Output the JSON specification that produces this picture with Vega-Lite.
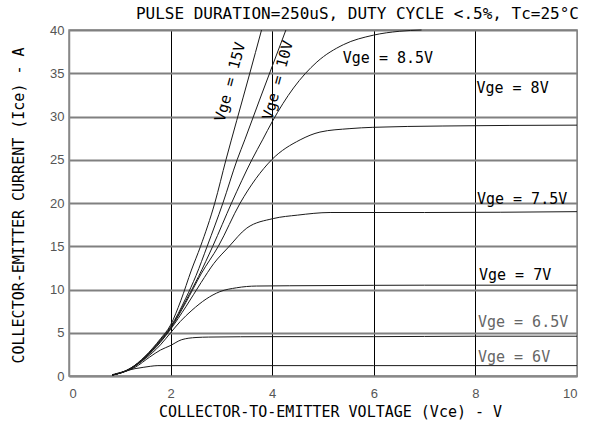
{
  "$schema": "https://vega.github.io/schema/vega-lite/v6.json",
  "width": 508,
  "height": 346,
  "autosize": {"type": "none"},
  "padding": {"left": 69, "top": 30, "right": 15, "bottom": 47},
  "background": "white",
  "config": {
    "view": {"stroke": "#888", "strokeWidth": 1.5},
    "font": "DejaVu Sans Mono"
  },
  "title": {
    "text": "PULSE DURATION=250uS, DUTY CYCLE <.5%, Tc=25°C",
    "anchor": "end",
    "font": "DejaVu Sans Mono",
    "fontSize": 16,
    "fontWeight": "normal",
    "color": "#000",
    "offset": 2
  },
  "datasets": {
    "curves": [
      {"vge": "6V", "vce": 0.85, "ic": 0.15}, {"vge": "6V", "vce": 1.07, "ic": 0.5}, {"vge": "6V", "vce": 1.3, "ic": 0.85}, {"vge": "6V", "vce": 1.46, "ic": 1.0}, {"vge": "6V", "vce": 1.6, "ic": 1.12}, {"vge": "6V", "vce": 1.75, "ic": 1.2}, {"vge": "6V", "vce": 2.5, "ic": 1.2}, {"vge": "6V", "vce": 4, "ic": 1.2}, {"vge": "6V", "vce": 6, "ic": 1.2}, {"vge": "6V", "vce": 8, "ic": 1.2}, {"vge": "6V", "vce": 10, "ic": 1.2},
      {"vge": "6.5V", "vce": 0.85, "ic": 0.1}, {"vge": "6.5V", "vce": 1.1, "ic": 0.5}, {"vge": "6.5V", "vce": 1.3, "ic": 1.0}, {"vge": "6.5V", "vce": 1.59, "ic": 2.2}, {"vge": "6.5V", "vce": 1.8, "ic": 3.0}, {"vge": "6.5V", "vce": 1.99, "ic": 3.5}, {"vge": "6.5V", "vce": 2.22, "ic": 4.2}, {"vge": "6.5V", "vce": 2.5, "ic": 4.45}, {"vge": "6.5V", "vce": 2.75, "ic": 4.5}, {"vge": "6.5V", "vce": 4, "ic": 4.55}, {"vge": "6.5V", "vce": 6, "ic": 4.55}, {"vge": "6.5V", "vce": 8, "ic": 4.6}, {"vge": "6.5V", "vce": 10, "ic": 4.6},
      {"vge": "7V", "vce": 0.85, "ic": 0.1}, {"vge": "7V", "vce": 1.2, "ic": 0.8}, {"vge": "7V", "vce": 1.5, "ic": 2.0}, {"vge": "7V", "vce": 1.8, "ic": 3.6}, {"vge": "7V", "vce": 2.0, "ic": 5.0}, {"vge": "7V", "vce": 2.19, "ic": 6.3}, {"vge": "7V", "vce": 2.42, "ic": 7.6}, {"vge": "7V", "vce": 2.7, "ic": 8.9}, {"vge": "7V", "vce": 2.97, "ic": 9.75}, {"vge": "7V", "vce": 3.3, "ic": 10.2}, {"vge": "7V", "vce": 3.69, "ic": 10.4}, {"vge": "7V", "vce": 5, "ic": 10.45}, {"vge": "7V", "vce": 7, "ic": 10.5}, {"vge": "7V", "vce": 10, "ic": 10.5},
      {"vge": "7.5V", "vce": 0.85, "ic": 0.1}, {"vge": "7.5V", "vce": 1.2, "ic": 0.8}, {"vge": "7.5V", "vce": 1.5, "ic": 2.1}, {"vge": "7.5V", "vce": 1.8, "ic": 3.9}, {"vge": "7.5V", "vce": 2.0, "ic": 5.4}, {"vge": "7.5V", "vce": 2.3, "ic": 8.0}, {"vge": "7.5V", "vce": 2.6, "ic": 10.8}, {"vge": "7.5V", "vce": 2.85, "ic": 13.0}, {"vge": "7.5V", "vce": 3.14, "ic": 14.9}, {"vge": "7.5V", "vce": 3.5, "ic": 17.1}, {"vge": "7.5V", "vce": 4.02, "ic": 18.2}, {"vge": "7.5V", "vce": 4.5, "ic": 18.6}, {"vge": "7.5V", "vce": 5.14, "ic": 18.9}, {"vge": "7.5V", "vce": 7, "ic": 18.9}, {"vge": "7.5V", "vce": 10, "ic": 19.0},
      {"vge": "8V", "vce": 0.85, "ic": 0.1}, {"vge": "8V", "vce": 1.2, "ic": 0.8}, {"vge": "8V", "vce": 1.5, "ic": 2.1}, {"vge": "8V", "vce": 1.8, "ic": 4.0}, {"vge": "8V", "vce": 2.0, "ic": 5.5}, {"vge": "8V", "vce": 2.3, "ic": 8.5}, {"vge": "8V", "vce": 2.6, "ic": 11.8}, {"vge": "8V", "vce": 2.94, "ic": 15}, {"vge": "8V", "vce": 3.37, "ic": 20}, {"vge": "8V", "vce": 3.99, "ic": 25}, {"vge": "8V", "vce": 4.55, "ic": 27.3}, {"vge": "8V", "vce": 4.94, "ic": 28.2}, {"vge": "8V", "vce": 5.53, "ic": 28.6}, {"vge": "8V", "vce": 5.98, "ic": 28.75}, {"vge": "8V", "vce": 7.36, "ic": 28.9}, {"vge": "8V", "vce": 10, "ic": 29.0},
      {"vge": "8.5V", "vce": 0.85, "ic": 0.1}, {"vge": "8.5V", "vce": 1.2, "ic": 0.85}, {"vge": "8.5V", "vce": 1.5, "ic": 2.2}, {"vge": "8.5V", "vce": 1.8, "ic": 4.1}, {"vge": "8.5V", "vce": 2.0, "ic": 5.6}, {"vge": "8.5V", "vce": 2.3, "ic": 8.7}, {"vge": "8.5V", "vce": 2.55, "ic": 11.5}, {"vge": "8.5V", "vce": 2.83, "ic": 15}, {"vge": "8.5V", "vce": 3.2, "ic": 20}, {"vge": "8.5V", "vce": 3.6, "ic": 25}, {"vge": "8.5V", "vce": 3.81, "ic": 27.3}, {"vge": "8.5V", "vce": 4.0, "ic": 29.4}, {"vge": "8.5V", "vce": 4.42, "ic": 33.3}, {"vge": "8.5V", "vce": 4.88, "ic": 36.3}, {"vge": "8.5V", "vce": 5.4, "ic": 38.3}, {"vge": "8.5V", "vce": 5.99, "ic": 39.4}, {"vge": "8.5V", "vce": 6.5, "ic": 39.85}, {"vge": "8.5V", "vce": 6.94, "ic": 40},
      {"vge": "10V", "vce": 0.85, "ic": 0.1}, {"vge": "10V", "vce": 1.2, "ic": 0.85}, {"vge": "10V", "vce": 1.5, "ic": 2.2}, {"vge": "10V", "vce": 1.8, "ic": 4.2}, {"vge": "10V", "vce": 2.0, "ic": 5.7}, {"vge": "10V", "vce": 2.3, "ic": 9.0}, {"vge": "10V", "vce": 2.5, "ic": 11.6}, {"vge": "10V", "vce": 2.72, "ic": 15}, {"vge": "10V", "vce": 3.03, "ic": 20}, {"vge": "10V", "vce": 3.31, "ic": 25}, {"vge": "10V", "vce": 3.46, "ic": 27.3}, {"vge": "10V", "vce": 3.75, "ic": 31.9}, {"vge": "10V", "vce": 4.0, "ic": 35.8}, {"vge": "10V", "vce": 4.27, "ic": 40},
      {"vge": "15V", "vce": 0.85, "ic": 0.1}, {"vge": "15V", "vce": 1.2, "ic": 0.85}, {"vge": "15V", "vce": 1.5, "ic": 2.3}, {"vge": "15V", "vce": 1.8, "ic": 4.3}, {"vge": "15V", "vce": 2.0, "ic": 5.9}, {"vge": "15V", "vce": 2.2, "ic": 8.7}, {"vge": "15V", "vce": 2.41, "ic": 12.25}, {"vge": "15V", "vce": 2.59, "ic": 15}, {"vge": "15V", "vce": 2.87, "ic": 20}, {"vge": "15V", "vce": 3.09, "ic": 25}, {"vge": "15V", "vce": 3.3, "ic": 29.5}, {"vge": "15V", "vce": 3.55, "ic": 34.8}, {"vge": "15V", "vce": 3.79, "ic": 40}
    ],
    "labels": [
      {"vge": "8.5V", "label": "Vge = 8.5V", "vce": 5.39, "ic": 36.8},
      {"vge": "8V", "label": "Vge = 8V", "vce": 8.02, "ic": 33.3},
      {"vge": "7.5V", "label": "Vge = 7.5V", "vce": 8.03, "ic": 20.5},
      {"vge": "7V", "label": "Vge = 7V", "vce": 8.07, "ic": 11.7},
      {"vge": "6.5V", "label": "Vge = 6.5V", "vce": 8.05, "ic": 6.3},
      {"vge": "6V", "label": "Vge = 6V", "vce": 8.05, "ic": 2.2}
    ],
    "rlabels": [
      {"label": "Vge = 15V", "vce": 3.17, "ic": 34.0},
      {"label": "Vge = 10V", "vce": 4.11, "ic": 34.2}
    ]
  },
  "layer": [
    {
      "data": {"name": "curves"},
      "mark": {"type": "line", "color": "#1a1a1a", "strokeWidth": 1, "interpolate": "monotone"},
      "encoding": {
        "x": {
          "field": "vce", "type": "quantitative",
          "scale": {"domain": [0, 10], "nice": false, "zero": false},
          "axis": {
            "values": [0, 2, 4, 6, 8, 10],
            "title": "COLLECTOR-TO-EMITTER VOLTAGE (Vce) - V",
            "titleFont": "DejaVu Sans Mono", "titleFontSize": 15, "titleFontWeight": "normal", "titleColor": "#000",
            "titleX": 261, "titleY": 35, "titleAlign": "center", "titleBaseline": "middle",
            "labelFont": "Liberation Sans", "labelFontSize": 13, "labelColor": "#555",
            "labelPadding": 11, "ticks": false,
            "domainColor": "#888", "domainWidth": 1.5,
            "grid": true,
            "gridColor": {"condition": {"test": "datum.value == 0 || datum.value == 10", "value": "#888"}, "value": "#000"},
            "gridWidth": 1, "gridOpacity": 1
          }
        },
        "y": {
          "field": "ic", "type": "quantitative",
          "scale": {"domain": [0, 40], "nice": false},
          "axis": {
            "values": [0, 5, 10, 15, 20, 25, 30, 35, 40],
            "title": "COLLECTOR-EMITTER CURRENT (Ice) - A",
            "titleFont": "DejaVu Sans Mono", "titleFontSize": 15, "titleFontWeight": "normal", "titleColor": "#000",
            "titleX": -51, "titleY": 175, "titleAngle": -90, "titleAlign": "center", "titleBaseline": "middle",
            "labelFont": "Liberation Sans", "labelFontSize": 13, "labelColor": "#555",
            "labelPadding": 5, "ticks": false,
            "domainColor": "#888", "domainWidth": 1.5,
            "grid": true, "gridColor": "#808080", "gridWidth": 2, "gridOpacity": 1
          }
        },
        "detail": {"field": "vge", "type": "nominal"}
      }
    },
    {
      "data": {"name": "labels"},
      "mark": {"type": "text", "align": "left", "baseline": "middle", "font": "DejaVu Sans Mono", "fontSize": 15},
      "encoding": {
        "x": {"field": "vce", "type": "quantitative"},
        "y": {"field": "ic", "type": "quantitative"},
        "text": {"field": "label"},
        "color": {
          "field": "vge", "type": "nominal", "legend": null,
          "scale": {"domain": ["8.5V", "8V", "7.5V", "7V", "6.5V", "6V"], "range": ["#000", "#000", "#000", "#000", "#666", "#666"]}
        }
      }
    },
    {
      "data": {"name": "rlabels"},
      "mark": {"type": "text", "align": "center", "baseline": "middle", "font": "DejaVu Sans Mono", "fontSize": 15, "angle": -75, "color": "#000"},
      "encoding": {
        "x": {"field": "vce", "type": "quantitative"},
        "y": {"field": "ic", "type": "quantitative"},
        "text": {"field": "label"}
      }
    }
  ]
}
